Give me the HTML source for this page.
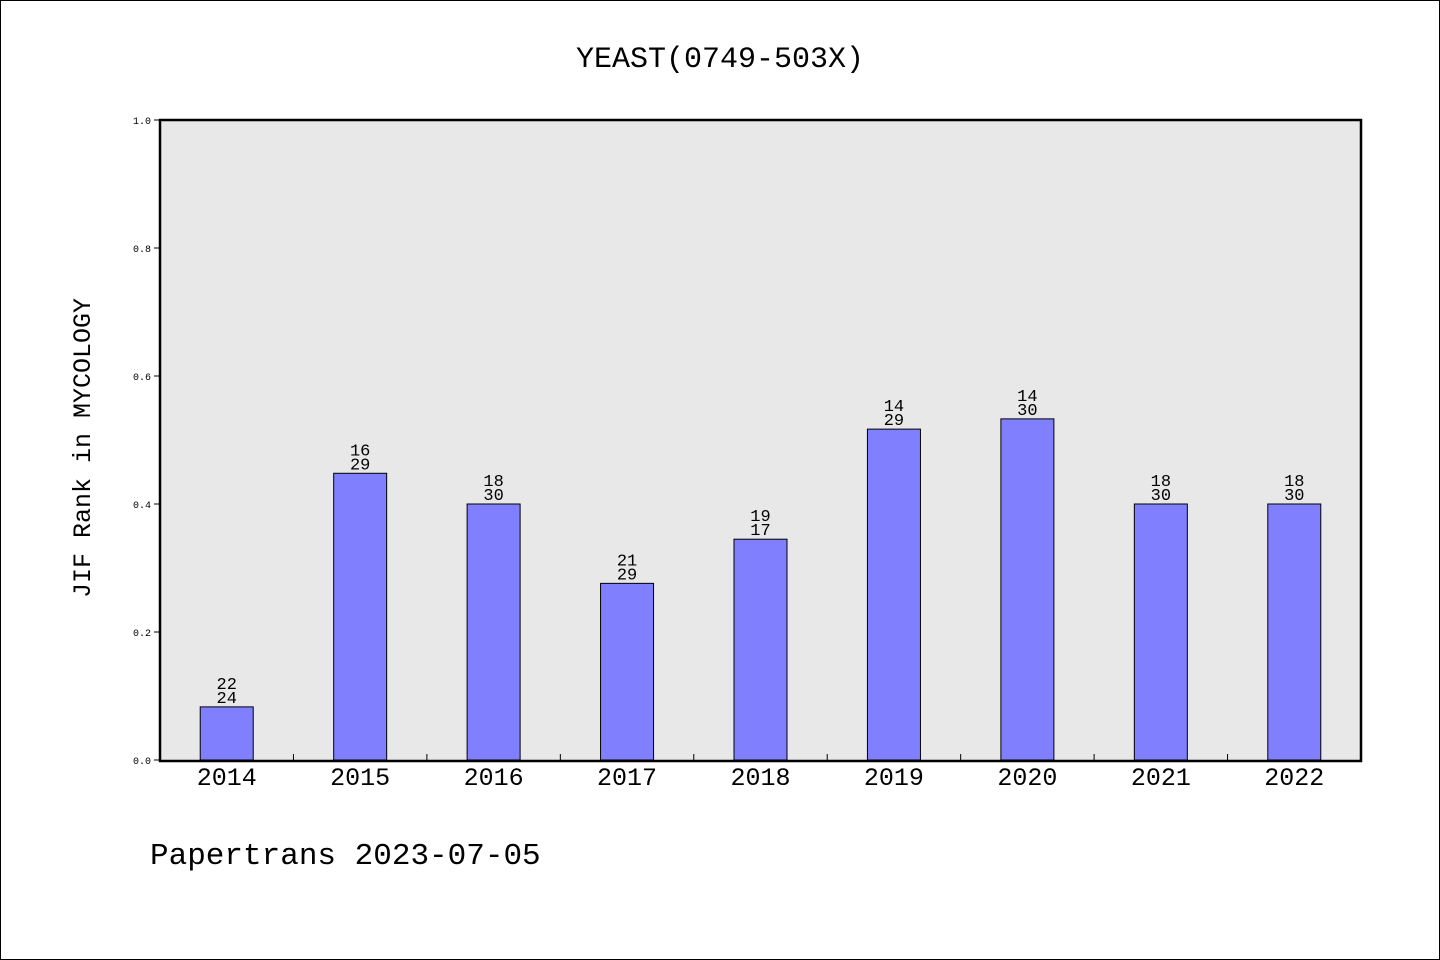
<!DOCTYPE html>
<html><head><meta charset="utf-8"><style>
body{margin:0;background:#fff}
svg{display:block;font-family:"WenQuanYi Zen Hei","Liberation Mono",monospace}
</style></head><body>
<svg width="1440" height="960" xmlns="http://www.w3.org/2000/svg">
<rect x="0.5" y="0.5" width="1439" height="959" fill="#fff" stroke="#000"/>
<text x="720" y="67" text-anchor="middle" font-size="30">YEAST(0749-503X)</text>
<rect x="160" y="120" width="1201" height="641" fill="#e8e8e8"/>
<g id="marks"></g>
<rect x="160" y="120" width="1201" height="641" fill="none" stroke="#000" stroke-width="2.5"/>
<text transform="translate(90,448) rotate(-90)" text-anchor="middle" font-size="25">JIF Rank in MYCOLOGY</text>
<text x="150" y="864" font-size="31">Papertrans 2023-07-05</text>
</svg>
<script>
const categories=["2014","2015","2016","2017","2018","2019","2020","2021","2022"];
const values=[0.083,0.448,0.4,0.276,0.345,0.517,0.533,0.4,0.4];
const topLabels=["22","16","18","21","19","14","14","18","18"];
const bottomLabels=["24","29","30","29","17","29","30","30","30"];
const yTicks=[0,0.2,0.4,0.6,0.8,1.0];
const X0=160,X1=1361,Y0=760,Y1=120;
const step=(X1-X0)/categories.length;
const xc=i=>X0+step*(i+0.5);
const y=v=>Y0-(Y0-Y1)*v;
const NS="http://www.w3.org/2000/svg";
const g=document.getElementById('marks');
function mk(t,a,txt){const e=document.createElementNS(NS,t);for(const k in a)e.setAttribute(k,a[k]);if(txt!=null)e.textContent=txt;g.appendChild(e);return e;}
yTicks.forEach(v=>{
 const l=mk('line',{x1:154,x2:160,y1:y(v),y2:y(v),stroke:'#000'});
 
 
 const t=mk('text',{x:151,y:y(v)+4,'text-anchor':'end','font-size':10},v.toFixed(1));
 
 
});
for(let i=1;i<categories.length;i++){
 const l=mk('line',{x1:X0+step*i,x2:X0+step*i,y1:754,y2:760,stroke:'#000'});
 
 
}
const bw=53;
categories.forEach((c,i)=>{
 const b=mk('rect',{x:xc(i)-bw/2,y:y(values[i]),width:bw,height:Y0-y(values[i]),fill:'#8080ff',stroke:'#000','stroke-width':1});
 
 
 const t1=mk('text',{x:xc(i),y:y(values[i])-18,'text-anchor':'middle','font-size':17},topLabels[i]);
 
 
 const t2=mk('text',{x:xc(i),y:y(values[i])-4,'text-anchor':'middle','font-size':17},bottomLabels[i]);
 
 
 const xl=mk('text',{x:xc(i),y:785,'text-anchor':'middle','font-size':25},c);
 
 
});
</script>
</body></html>
